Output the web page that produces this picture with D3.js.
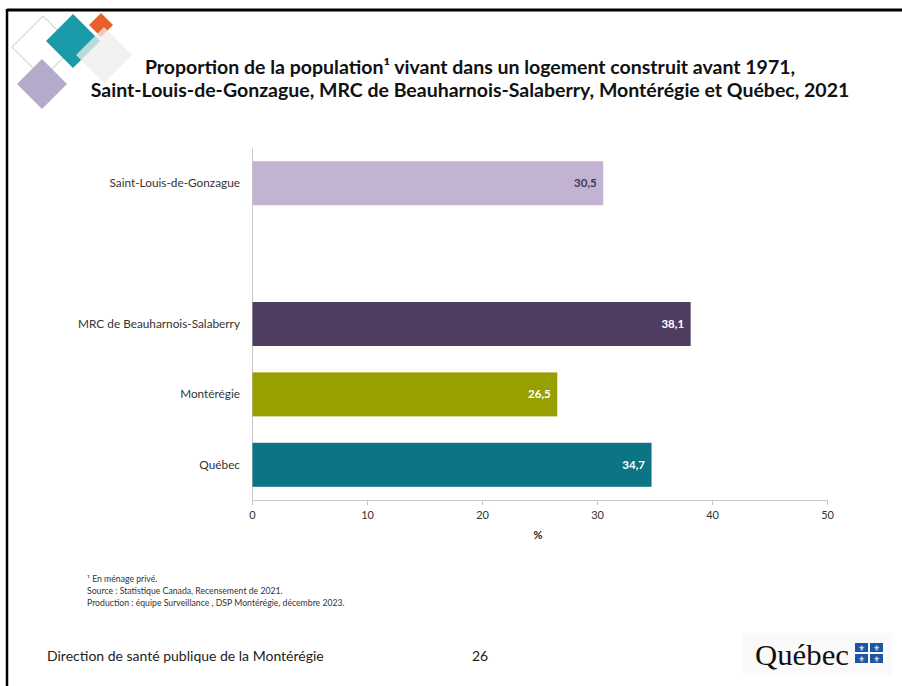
<!DOCTYPE html>
<html><head><meta charset="utf-8">
<script src="https://cdn.jsdelivr.net/npm/d3@7"></script>
<style>body{margin:0;background:#fff}svg{display:block}</style>
</head><body>
<script>
const categories = ["Saint-Louis-de-Gonzague", "", "MRC de Beauharnois-Salaberry", "Montérégie", "Québec"];
const values = [30.5, null, 38.1, 26.5, 34.7];
const barColors = ["#c3b3d3", "none", "#4e3c61", "#97a000", "#0b7585"];
const labelColors = ["#3d3a55", "none", "#ffffff", "#ffffff", "#ffffff"];
const xTicks = [0, 10, 20, 30, 40, 50];
const titleLines = ["Proportion de la population¹ vivant dans un logement construit avant 1971,",
  "Saint-Louis-de-Gonzague, MRC de Beauharnois-Salaberry, Montérégie et Québec, 2021"];
const notes = ["¹ En ménage privé.", "Source : Statistique Canada, Recensement de 2021.",
  "Production : équipe Surveillance , DSP Montérégie, décembre 2023."];

const W = 902, H = 686;
const svg = d3.select("body").append("svg").attr("width", W).attr("height", H);
const font = "Lato, 'Open Sans', sans-serif";

// frame
svg.append("line").attr("x1", 7).attr("x2", W).attr("y1", 10).attr("y2", 10).attr("stroke", "#000").attr("stroke-width", 3);
svg.append("line").attr("x1", 7).attr("x2", 7).attr("y1", 9).attr("y2", H).attr("stroke", "#000").attr("stroke-width", 2.5);

// decorative diamonds
function diamond(cx, cy, r, fill, stroke, op) {
  svg.append("path").attr("d", `M${cx},${cy - r}L${cx + r},${cy}L${cx},${cy + r}L${cx - r},${cy}Z`)
    .attr("fill", fill).attr("stroke", stroke || "none").attr("stroke-width", 1.2).attr("opacity", op == null ? 1 : op)
    .attr("stroke-linejoin", "round");
}
diamond(43, 47, 31, "none", "#d5dcd2");
diamond(73, 41, 27, "#1b9aa9");
diamond(101, 25, 12, "#e8602a");
diamond(104, 55, 28, "#efedeb", null, 0.75);
diamond(42, 84, 25, "#b4aaca");

// title
const title = svg.append("text").attr("font-family", font).attr("font-weight", "bold").attr("font-size", 19.5).attr("fill", "#111").attr("text-anchor", "middle");
title.append("tspan").attr("x", 470).attr("y", 74).text(titleLines[0]);
title.append("tspan").attr("x", 470).attr("y", 97).text(titleLines[1]);

// scales
const x = d3.scaleLinear().domain([0, 50]).range([252, 827]);
const y = d3.scaleBand().domain(categories.map((c, i) => i)).range([148, 500]).paddingInner(0.375).paddingOuter(0.1875);

// axes
const xa = svg.append("g").attr("transform", "translate(0,500)")
  .call(d3.axisBottom(x).tickValues(xTicks).tickSize(5).tickSizeOuter(0).tickFormat(d3.format("d")));
xa.select(".domain").attr("stroke", "#c8c8c8");
xa.selectAll(".tick line").attr("stroke", "#c8c8c8");
xa.selectAll(".tick text").attr("font-family", font).attr("font-size", 11).attr("fill", "#333").attr("dy", "1.0em");
svg.append("text").attr("x", 538).attr("y", 539).attr("text-anchor", "middle").attr("font-family", font).attr("font-weight", "bold").attr("font-size", 11).attr("fill", "#222").text("%");

const ya = svg.append("g").attr("transform", "translate(252,0)")
  .call(d3.axisLeft(y).tickSize(0).tickFormat(i => categories[i]).tickPadding(12));
ya.select(".domain").attr("stroke", "#c8c8c8");
ya.selectAll(".tick text").attr("font-family", font).attr("font-size", 11.8).attr("fill", "#333");

// bars
const data = categories.map((c, i) => ({i, c, v: values[i]})).filter(d => d.v != null);
svg.selectAll("rect.bar").data(data).join("rect").attr("class", "bar")
  .attr("x", x(0) + 0.5).attr("y", d => y(d.i)).attr("width", d => x(d.v) - x(0)).attr("height", y.bandwidth())
  .attr("fill", d => barColors[d.i]);
svg.selectAll("text.val").data(data).join("text").attr("class", "val")
  .attr("x", d => x(d.v) - 6).attr("y", d => y(d.i) + y.bandwidth() / 2).attr("dy", "0.35em")
  .attr("text-anchor", "end").attr("font-family", font).attr("font-weight", "bold").attr("font-size", 11.5)
  .attr("fill", d => labelColors[d.i]).text(d => d3.format(".1f")(d.v).replace(".", ","));

// notes
svg.selectAll("text.note").data(notes).join("text").attr("class", "note")
  .attr("x", 87).attr("y", (d, i) => 582 + i * 12).attr("font-family", font).attr("font-size", 8.7).attr("fill", "#333").text(d => d);

// footer
svg.append("text").attr("x", 47).attr("y", 661).attr("font-family", font).attr("font-size", 14).attr("fill", "#222").text("Direction de santé publique de la Montérégie");
svg.append("text").attr("x", 472).attr("y", 661).attr("font-family", font).attr("font-size", 14).attr("fill", "#222").text("26");

// Québec logo
svg.append("rect").attr("x", 742).attr("y", 633).attr("width", 150).attr("height", 42).attr("fill", "#fbfafa");
svg.append("text").attr("x", 755).attr("y", 665).attr("font-family", "'Liberation Serif', 'DejaVu Serif', serif").attr("font-size", 29).attr("fill", "#111")
  .attr("textLength", 94).attr("lengthAdjust", "spacingAndGlyphs").text("Québec");
const fx = 855, fy = 643, fw = 13, fh = 9, gap = 2;
[[0,0],[1,0],[0,1],[1,1]].forEach(([a,b]) => {
  svg.append("rect").attr("x", fx + a * (fw + gap)).attr("y", fy + b * (fh + gap)).attr("width", fw).attr("height", fh).attr("fill", "#1d56a5");
  svg.append("text").attr("x", fx + a * (fw + gap) + fw / 2).attr("y", fy + b * (fh + gap) + fh - 1.5)
    .attr("text-anchor", "middle").attr("font-size", 7.5).attr("fill", "#fff").text("⚜");
});
</script>
</body></html>
